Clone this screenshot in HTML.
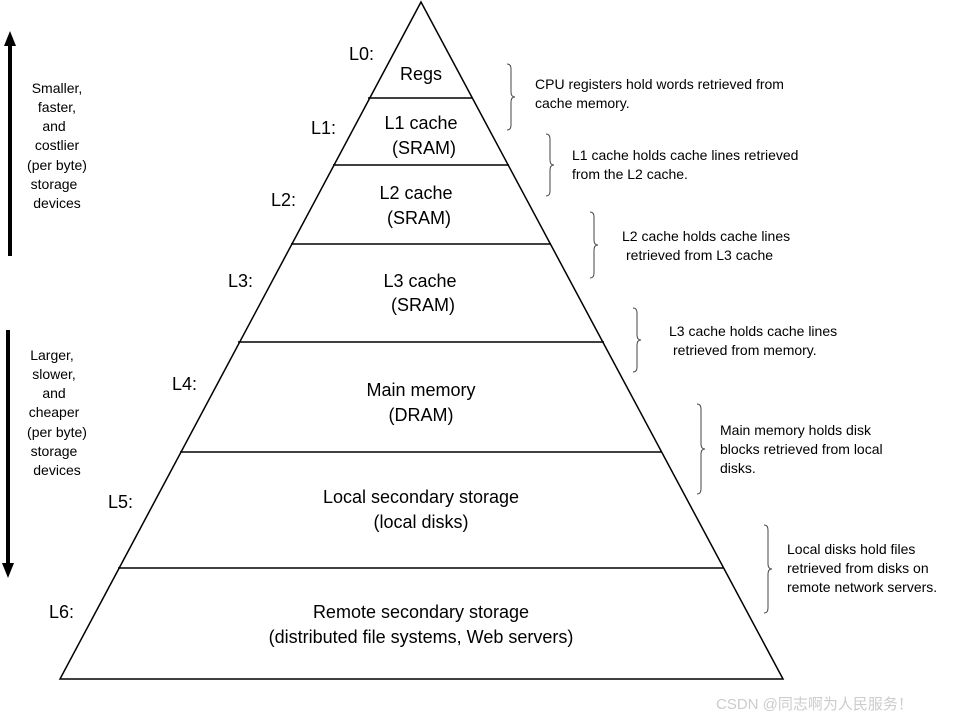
<!DOCTYPE html>
<html><head><meta charset="utf-8"><style>
html,body{margin:0;padding:0;background:#fff;}
svg{display:block;font-family:"Liberation Sans",Arial,sans-serif;}
</style></head><body>
<svg width="960" height="720" viewBox="0 0 960 720" xmlns="http://www.w3.org/2000/svg">
<g stroke="#000" stroke-width="1.5" fill="none">
<polygon points="421,2 783,679 60,679"/>
<line x1="368" y1="98" x2="473" y2="98"/>
<line x1="333" y1="165" x2="509" y2="165"/>
<line x1="291" y1="244" x2="551" y2="244"/>
<line x1="238" y1="342" x2="604" y2="342"/>
<line x1="180" y1="452" x2="662" y2="452"/>
<line x1="118" y1="568" x2="724" y2="568"/>
</g>
<g stroke="#000" stroke-width="4">
<line x1="10" y1="256" x2="10" y2="44"/>
<line x1="8" y1="330" x2="8" y2="566"/>
</g>
<polygon points="10,31 4,46 16,46" fill="#000"/>
<polygon points="8,578 2,563 14,563" fill="#000"/>
<g stroke="#444" stroke-width="1" fill="none">
<path d="M507,64 q4,0 4,5 v23 q0,5 4,5 q-4,0 -4,5 v23 q0,5 -4,5"/>
<path d="M546,134 q4,0 4,5 v21 q0,5 4,5 q-4,0 -4,5 v21 q0,5 -4,5"/>
<path d="M590,212 q4,0 4,5 v23 q0,5 4,5 q-4,0 -4,5 v23 q0,5 -4,5"/>
<path d="M633,308 q4,0 4,5 v22 q0,5 4,5 q-4,0 -4,5 v22 q0,5 -4,5"/>
<path d="M697,404 q4,0 4,5 v35 q0,5 4,5 q-4,0 -4,5 v35 q0,5 -4,5"/>
<path d="M764,525 q4,0 4,5 v34 q0,5 4,5 q-4,0 -4,5 v34 q0,5 -4,5"/>
</g>
<g font-size="18" fill="#000" text-anchor="middle">
<text x="421" y="80">Regs</text>
<text x="421" y="129">L1 cache</text>
<text x="424" y="154">(SRAM)</text>
<text x="416" y="199">L2 cache</text>
<text x="419" y="224">(SRAM)</text>
<text x="420" y="287">L3 cache</text>
<text x="423" y="311">(SRAM)</text>
<text x="421" y="396">Main memory</text>
<text x="421" y="421">(DRAM)</text>
<text x="421" y="503">Local secondary storage</text>
<text x="421" y="528">(local disks)</text>
<text x="421" y="618">Remote secondary storage</text>
<text x="421" y="643">(distributed file systems, Web servers)</text>
</g>
<g font-size="18" fill="#000">
<text x="349" y="60">L0:</text>
<text x="311" y="134">L1:</text>
<text x="271" y="206">L2:</text>
<text x="228" y="287">L3:</text>
<text x="172" y="390">L4:</text>
<text x="108" y="508">L5:</text>
<text x="49" y="618">L6:</text>
</g>
<g font-size="14" fill="#000" text-anchor="middle">
<text x="57" y="93">Smaller,</text>
<text x="57" y="112">faster,</text>
<text x="54" y="131">and</text>
<text x="57" y="150">costlier</text>
<text x="57" y="170">(per byte)</text>
<text x="54" y="189">storage</text>
<text x="57" y="208">devices</text>
<text x="52" y="360">Larger,</text>
<text x="54" y="379">slower,</text>
<text x="54" y="398">and</text>
<text x="54" y="417">cheaper</text>
<text x="57" y="437">(per byte)</text>
<text x="54" y="456">storage</text>
<text x="57" y="475">devices</text>
</g>
<g font-size="14" fill="#000">
<text x="535" y="89">CPU registers hold words retrieved from</text>
<text x="535" y="108">cache memory.</text>
<text x="572" y="160">L1 cache holds cache lines retrieved</text>
<text x="572" y="179">from the L2 cache.</text>
<text x="622" y="241">L2 cache holds cache lines</text>
<text x="626" y="260">retrieved from L3 cache</text>
<text x="669" y="336">L3 cache holds cache lines</text>
<text x="673" y="355">retrieved from memory.</text>
<text x="720" y="435">Main memory holds disk</text>
<text x="720" y="454">blocks retrieved from local</text>
<text x="720" y="473">disks.</text>
<text x="787" y="554">Local disks hold files</text>
<text x="787" y="573">retrieved from disks on</text>
<text x="787" y="592">remote network servers.</text>
</g>
<text x="716" y="709" font-size="15" fill="#ccc" font-family="'Liberation Sans','Noto Sans CJK SC',sans-serif">CSDN @同志啊为人民服务！</text>
</svg>
</body></html>
